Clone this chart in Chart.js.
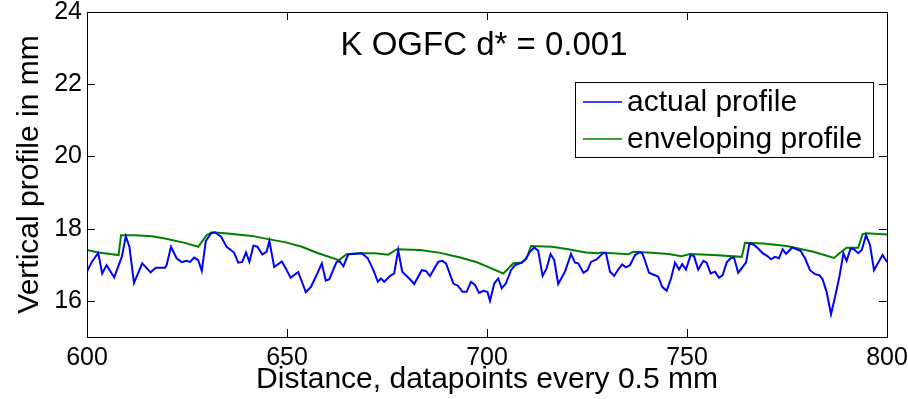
<!DOCTYPE html>
<html>
<head>
<meta charset="utf-8">
<title>K OGFC d* = 0.001</title>
<script src="https://cdn.jsdelivr.net/npm/chart.js@4"></script>
<style>
  html, body { margin: 0; padding: 0; background: #fff; }
  #wrap { width: 908px; height: 399px; }
</style>
</head>
<body>
<div id="wrap"><canvas id="profileChart" width="908" height="399"></canvas></div>
<script>
// values
const chartTitle = "K OGFC d* = 0.001";
const seriesLabels = ["actual profile", "enveloping profile"];
const xTicks = [600, 650, 700, 750, 800];
const yTicks = [16, 18, 20, 22, 24];

const actualX = [
  600, 601.2, 602.8, 603.8, 604.9, 606.8, 608.7, 609.7, 610.6, 611.75,
  613.8, 615.9, 617.2, 619.5, 619.9, 621, 622.4, 623.7, 624.8, 625.75,
  626.8, 627.8, 628.7, 629.7, 631, 632, 633.5, 634.9, 636.2, 636.8,
  637.8, 638.8, 639.75, 640.6, 641.6, 642.6, 643.8, 644.9, 645.6, 646.8,
  648.7, 649.7, 650.9, 652.8, 654.7, 656, 657.6, 658.7, 659.7, 660.6,
  662.4, 663.1, 664.1, 665.3, 668.7, 670.2, 671.6, 672.7, 673.5, 674.3,
  675.75, 676.8, 677.8, 678.8, 680.75, 681.8, 683.7, 684.7, 685.75, 687.8,
  688.8, 689.75, 691.6, 692.7, 693.9, 694.9, 696, 697, 698, 699.1,
  700.1, 700.75, 701.8, 702.8, 703.7, 704.7, 706, 707, 708.7, 709.5,
  710.75, 711.8, 712.8, 713.9, 714.9, 715.9, 716.8, 717.8, 719.5, 721,
  722, 722.8, 724.1, 725.1, 726, 727.4, 728.25, 729.1, 729.75, 730.75,
  731.8, 732.8, 733.8, 734.7, 735.75, 737, 738.1, 738.7, 739.3, 740.5,
  742, 742.8, 743.8, 744.9, 746, 747, 748, 748.8, 749.75, 750.9,
  751.75, 752.8, 754.1, 754.9, 755.9, 757, 758, 758.9, 759.9, 760.9,
  761.75, 762.8, 764.75, 765.6, 766.75, 767.8, 768.9, 770.1, 771, 772,
  773, 773.9, 774.75, 776.3, 777.4, 778.4, 779.5, 780.75, 782, 783.1,
  783.9, 784.9, 786, 787, 788.1, 789.1, 789.9, 790.9, 791.75, 792.8,
  793.7, 794.75, 795.75, 796.75, 797.8, 798.9, 800
];
const actualY = [
  16.81, 17.08, 17.33, 16.76, 16.99, 16.65, 17.22, 17.79, 17.50, 16.50,
  17.04, 16.79, 16.92, 16.92, 16.99, 17.50, 17.18, 17.07, 17.11, 17.08,
  17.20, 17.13, 16.83, 17.66, 17.87, 17.90, 17.78, 17.50, 17.39, 17.33,
  17.06, 17.08, 17.34, 17.08, 17.53, 17.50, 17.29, 17.36, 17.66, 16.94,
  17.09, 16.90, 16.64, 16.80, 16.24, 16.39, 16.76, 17.04, 16.56, 16.60,
  17.08, 17.10, 16.96, 17.29, 17.32, 17.18, 16.85, 16.53, 16.62, 16.53,
  16.69, 16.76, 17.41, 16.81, 16.60, 16.47, 16.85, 16.83, 16.69, 17.08,
  17.11, 17.04, 16.48, 16.42, 16.25, 16.25, 16.53, 16.44, 16.22, 16.28,
  16.25, 16.00, 16.48, 16.62, 16.35, 16.48, 16.85, 16.99, 17.06, 17.13,
  17.36, 17.48, 17.39, 16.69, 16.90, 17.30, 17.13, 16.47, 16.81, 17.30,
  17.06, 17.04, 16.78, 16.85, 17.08, 17.15, 17.24, 17.33, 17.32, 16.81,
  16.69, 16.87, 17.01, 16.93, 16.99, 17.27, 17.34, 17.34, 17.18, 16.78,
  16.71, 16.67, 16.39, 16.28, 16.62, 17.06, 16.87, 17.02, 16.87, 17.27,
  17.24, 16.87, 17.11, 17.06, 16.76, 16.81, 16.64, 16.71, 17.06, 17.18,
  17.20, 16.78, 17.06, 17.59, 17.55, 17.45, 17.32, 17.24, 17.15, 17.22,
  17.18, 17.43, 17.30, 17.48, 17.43, 17.39, 17.18, 16.85, 16.74, 16.71,
  16.60, 16.25, 15.63, 16.11, 16.67, 17.32, 17.11, 17.45, 17.43, 17.32,
  17.41, 17.82, 17.55, 16.85, 17.06, 17.27, 17.08
];

const envelopeX = [
  600, 602.8, 607.9, 608.5, 612, 616.2, 619.5, 624.7, 627.8, 629.9,
  631.2, 634.5, 641.2, 645.3, 649.7, 653.7, 657.8, 663, 664.9, 668.7,
  672, 675.3, 677.5, 683.3, 688.3, 693.3, 697.5, 700.2, 704.1, 706.6,
  708.7, 709.9, 711, 716.2, 720.3, 724.7, 727.8, 728.5, 735.3, 736.6,
  741.2, 745.4, 748.6, 750.75, 756.6, 763.7, 764.5, 769.1, 774.9, 781.6,
  786.75, 788.1, 789.9, 792.8, 793.9, 794.9, 800
];
const envelopeY = [
  17.41, 17.34, 17.27, 17.82, 17.82, 17.79, 17.73, 17.60, 17.50, 17.82,
  17.90, 17.87, 17.80, 17.71, 17.62, 17.50, 17.32, 17.13, 17.29, 17.32,
  17.32, 17.28, 17.43, 17.41, 17.33, 17.20, 17.07, 16.94, 16.76, 17.04,
  17.06, 17.18, 17.52, 17.50, 17.43, 17.34, 17.32, 17.34, 17.29, 17.36,
  17.33, 17.30, 17.24, 17.30, 17.27, 17.22, 17.61, 17.59, 17.52, 17.36,
  17.19, 17.32, 17.47, 17.47, 17.85, 17.87, 17.84
];

const FONT = "'Liberation Sans', Arial, sans-serif";
const seriesColors = ["#0000ff", "#008000"];

function toPoints(xs, ys) {
  return xs.map((x, i) => ({ x, y: ys[i] }));
}

// box round the axes, inward ticks, title and legend drawn the MATLAB way
const matlabFrame = {
  id: "matlabFrame",
  afterDraw(chart) {
    const { ctx, chartArea: a, scales } = chart;
    const tick = 8;
    ctx.save();
    ctx.strokeStyle = "#000";
    ctx.lineWidth = 1;
    ctx.strokeRect(a.left + 0.5, a.top + 0.5, a.right - a.left, a.bottom - a.top);

    ctx.beginPath();
    yTicks.forEach((v) => {
      const y = Math.round(scales.y.getPixelForValue(v)) + 0.5;
      ctx.moveTo(a.left, y); ctx.lineTo(a.left + tick, y);
      ctx.moveTo(a.right, y); ctx.lineTo(a.right - tick, y);
    });
    xTicks.forEach((v) => {
      const x = Math.round(scales.x.getPixelForValue(v)) + 0.5;
      ctx.moveTo(x, a.bottom); ctx.lineTo(x, a.bottom - tick);
      ctx.moveTo(x, a.top); ctx.lineTo(x, a.top + tick);
    });
    ctx.stroke();

    // title inside the axes
    ctx.fillStyle = "#000";
    ctx.font = "33px " + FONT;
    ctx.textAlign = "center";
    ctx.textBaseline = "middle";
    ctx.fillText(chartTitle, 484, 46);

    // legend box
    const lx = 575, ly = 82, lw = 298, lh = 75;
    ctx.fillStyle = "#fff";
    ctx.fillRect(lx, ly, lw, lh);
    ctx.strokeRect(lx + 0.5, ly + 0.5, lw, lh);
    ctx.font = "30px " + FONT;
    ctx.textAlign = "left";
    chart.data.datasets.forEach((ds, i) => {
      const y = ly + 20 + i * 37;
      ctx.strokeStyle = ds.borderColor;
      ctx.lineWidth = 1.5;
      ctx.beginPath();
      ctx.moveTo(lx + 8, y); ctx.lineTo(lx + 47, y);
      ctx.stroke();
      ctx.fillStyle = "#000";
      ctx.fillText(ds.label, lx + 52, y + 1);
    });
    ctx.restore();
  },
};

function fixedScale(size, prop) {
  return (scale) => {
    scale[prop] = size;
    scale.paddingTop = 0;
    scale.paddingBottom = 0;
    scale.paddingLeft = 0;
    scale.paddingRight = 0;
  };
}

function renderProfileChart() {
  const ctx = document.getElementById("profileChart");

  new Chart(ctx, {
    type: "line",
    data: {
      datasets: [
        {
          label: seriesLabels[0],
          data: toPoints(actualX, actualY),
          borderColor: seriesColors[0],
          borderWidth: 2,
          pointRadius: 0,
          tension: 0,
          fill: false,
        },
        {
          label: seriesLabels[1],
          data: toPoints(envelopeX, envelopeY),
          borderColor: seriesColors[1],
          borderWidth: 2,
          pointRadius: 0,
          tension: 0,
          fill: false,
        },
      ],
    },
    options: {
      responsive: false,
      animation: false,
      layout: { padding: { top: 12, right: 21, left: 0, bottom: 0 } },
      plugins: {
        legend: { display: false },
        title: { display: false },
        tooltip: { enabled: false },
      },
      scales: {
        x: {
          type: "linear",
          min: 600,
          max: 800,
          afterBuildTicks: (s) => { s.ticks = xTicks.map((value) => ({ value })); },
          afterFit: fixedScale(62, "height"),
          grid: { display: false, drawTicks: false },
          border: { display: false },
          ticks: { color: "#000", font: { family: FONT, size: 25 }, padding: 6, maxRotation: 0 },
          title: {
            display: true,
            text: "Distance, datapoints every 0.5 mm",
            color: "#000",
            font: { family: FONT, size: 30 },
            padding: { top: 0, bottom: 1 },
          },
        },
        y: {
          min: 15,
          max: 24,
          afterBuildTicks: (s) => { s.ticks = yTicks.map((value) => ({ value })); },
          afterFit: fixedScale(87, "width"),
          grid: { display: false, drawTicks: false },
          border: { display: false },
          ticks: { color: "#000", font: { family: FONT, size: 25 }, padding: 5 },
          title: {
            display: true,
            text: "Vertical profile in mm",
            color: "#000",
            font: { family: FONT, size: 30 },
            padding: { top: 12, bottom: 0 },
          },
        },
      },
    },
    plugins: [matlabFrame],
  });
}

document.addEventListener("DOMContentLoaded", renderProfileChart);
</script>
</body>
</html>
